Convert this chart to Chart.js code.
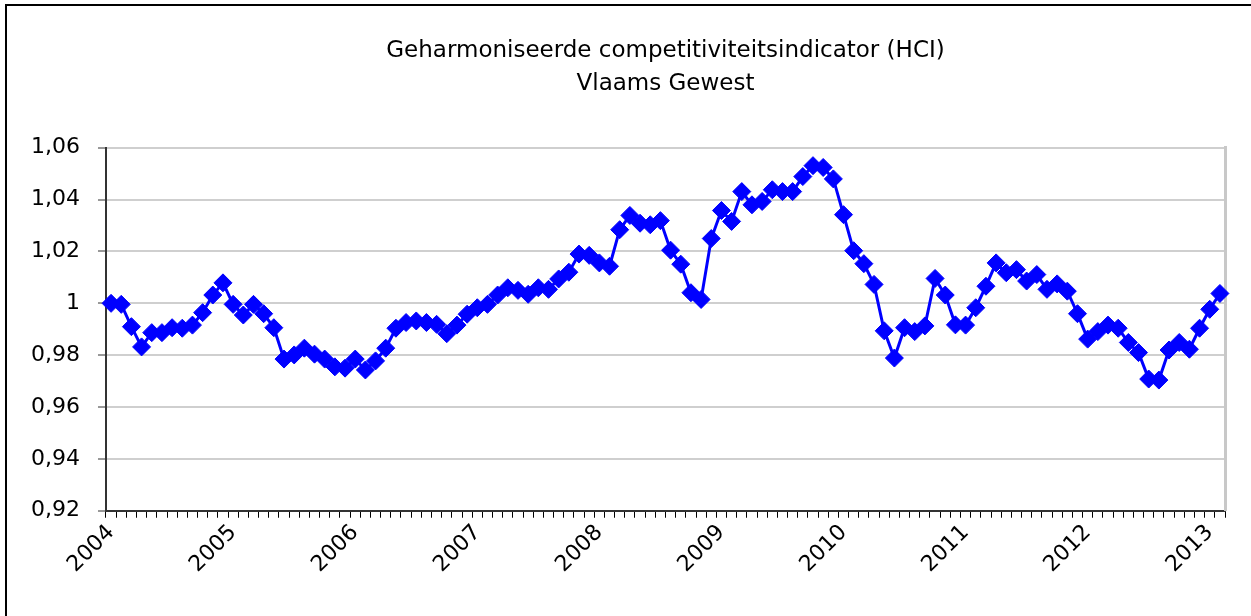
<!DOCTYPE html>
<html>
<head>
<meta charset="utf-8">
<script src="https://cdn.jsdelivr.net/npm/chart.js@4"></script>
<style>
  html, body { margin: 0; padding: 0; background: #fff; overflow: hidden; }
  #wrap { position: relative; width: 1251px; height: 616px; }
  #frame { position: absolute; left: 5px; top: 4px; width: 1300px; height: 700px; border: 2px solid #000; }
  #hciChart { position: absolute; left: 0; top: 0; }
</style>
</head>
<body>
<div id="wrap">
  <div id="frame"></div>
  <canvas id="hciChart" width="1251" height="616"></canvas>
</div>
<script>
// HCI Vlaams Gewest, monthly values per year
const years = [2004, 2005, 2006, 2007, 2008, 2009, 2010, 2011, 2012, 2013];
const hci2004 = [1.000, 0.9996, 0.991, 0.9832, 0.9887, 0.9887, 0.9906, 0.9904, 0.9916, 0.9964, 1.0032, 1.0079];
const hci2005 = [0.9996, 0.9955, 0.9996, 0.996, 0.9906, 0.9785, 0.9801, 0.9827, 0.9804, 0.9785, 0.9755, 0.975];
const hci2006 = [0.9785, 0.9743, 0.9778, 0.9827, 0.9904, 0.9926, 0.9932, 0.9926, 0.9919, 0.9883, 0.9916, 0.9958];
const hci2007 = [0.9983, 0.9996, 1.0032, 1.006, 1.005, 1.0035, 1.006, 1.0054, 1.0094, 1.012, 1.019, 1.0185];
const hci2008 = [1.0156, 1.0143, 1.0284, 1.0339, 1.0309, 1.0303, 1.0319, 1.0205, 1.0151, 1.0041, 1.0015, 1.025];
const hci2009 = [1.0358, 1.0316, 1.0431, 1.038, 1.0393, 1.0438, 1.0431, 1.0431, 1.0489, 1.0531, 1.0524, 1.048];
const hci2010 = [1.0342, 1.0203, 1.0153, 1.0073, 0.9894, 0.9789, 0.9906, 0.9891, 0.9913, 1.0096, 1.0032, 0.9917];
const hci2011 = [0.9916, 0.9983, 1.0066, 1.0156, 1.0118, 1.013, 1.0086, 1.0111, 1.0054, 1.0075, 1.0047, 0.996];
const hci2012 = [0.9862, 0.9891, 0.9916, 0.9904, 0.9849, 0.981, 0.9708, 0.9704, 0.982, 0.9849, 0.9823, 0.9904];
const hci2013 = [0.9977, 1.0038];

const yTicks = [0.92, 0.94, 0.96, 0.98, 1.00, 1.02, 1.04, 1.06];

const perYear = [hci2004, hci2005, hci2006, hci2007, hci2008, hci2009, hci2010, hci2011, hci2012, hci2013];
const categories = [];
const values = [];
perYear.forEach((arr, i) => {
  arr.forEach((v, m) => {
    categories.push(years[i] + "-" + String(m + 1).padStart(2, "0"));
    values.push(v);
  });
});

const FONT = "'DejaVu Sans', Verdana, sans-serif";
Chart.defaults.font.family = FONT;
Chart.defaults.color = "#000";

new Chart(document.getElementById("hciChart").getContext("2d"), {
  type: "line",
  data: {
    labels: categories,
    datasets: [{
      data: values,
      borderColor: "#0000ff",
      backgroundColor: "#0000ff",
      borderWidth: 3,
      tension: 0,
      pointStyle: "rectRot",
      pointRadius: 9,
      pointBorderWidth: 1,
      pointBackgroundColor: "#0000ff",
      pointBorderColor: "#0000ff"
    }]
  },
  options: {
    responsive: false,
    animation: false,
    layout: { padding: { left: 13, right: 26, top: 0, bottom: 36 } },
    plugins: {
      legend: { display: false },
      tooltip: { enabled: false },
      title: {
        display: true,
        fullSize: false,
        text: ["Geharmoniseerde competitiviteitsindicator (HCI)", "Vlaams Gewest"],
        color: "#000",
        font: { size: 23, weight: "normal", lineHeight: 1.43 },
        padding: { top: 35, bottom: 47 }
      }
    },
    scales: {
      x: {
        type: "category",
        offset: true,
        grid: {
          offset: true,
          drawOnChartArea: false,
          tickLength: 7,
          color: "#000",
          lineWidth: 1
        },
        border: { color: "#333", width: 2 },
        ticks: {
          autoSkip: false,
          minRotation: 45,
          maxRotation: 45,
          padding: 2,
          font: { size: 22 },
          color: "#000",
          callback: (v, i) => (i % 12 === 0 ? categories[i].slice(0, 4) : "")
        }
      },
      y: {
        min: yTicks[0],
        max: yTicks[yTicks.length - 1],
        afterBuildTicks: axis => { axis.ticks = yTicks.map(v => ({ value: v })); },
        grid: {
          color: "#cfcfcf",
          lineWidth: 2,
          tickColor: "#333",
          tickLength: 8,
          tickWidth: 1
        },
        border: { color: "#333", width: 2 },
        ticks: {
          padding: 18,
          font: { size: 22 },
          color: "#000",
          callback: v => String(Math.round(v * 100) / 100).replace(".", ",")
        }
      },
      yRight: {
        position: "right",
        min: yTicks[0],
        max: yTicks[yTicks.length - 1],
        grid: { drawOnChartArea: false, drawTicks: false },
        ticks: { display: false },
        border: { color: "#c8c8c8", width: 3 }
      }
    }
  }
});
</script>
</body>
</html>
